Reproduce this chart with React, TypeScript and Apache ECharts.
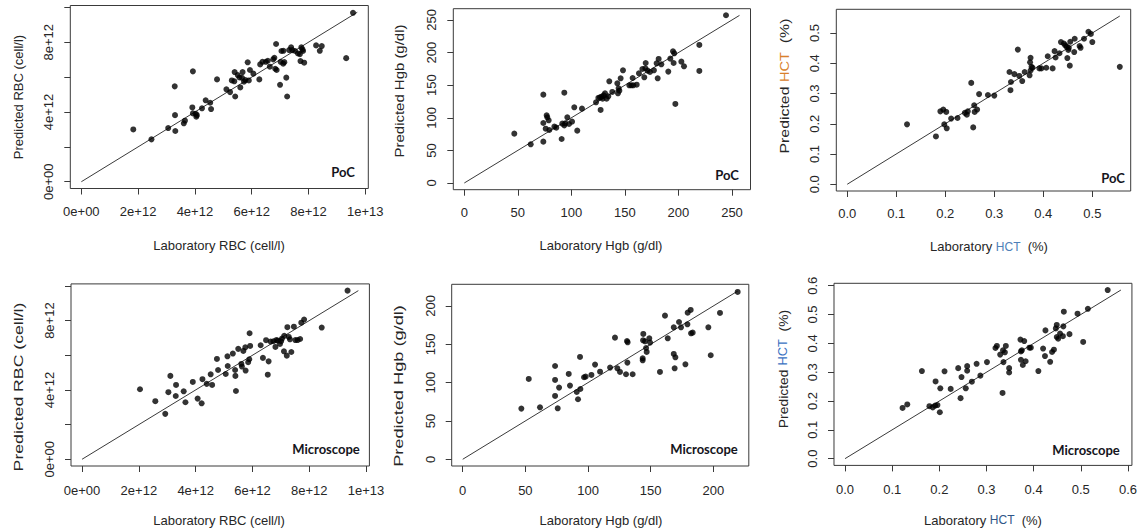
import React, { useEffect, useRef } from "react";
import * as echarts from "echarts";

// ---- Data (RBC values in units of 1e12 cell/l) ----
const rbcPocLab = [9.57,1.83,2.47,3.06,3.29,3.30,3.31,3.61,3.65,3.93,3.91,3.93,4.03,4.05,4.07,4.25,4.38,4.54,4.57,4.78,5.11,5.24,5.30,5.39,5.40,5.42,5.51,5.57,5.60,5.66,5.68,5.73,5.78,5.86,5.90,5.94,6.06,6.27,6.30,6.38,6.50,6.57,6.64,6.76,6.80,6.83,6.86,6.88,7.00,7.02,7.05,7.12,7.11,7.15,7.22,7.25,7.32,7.39,7.43,7.53,7.63,7.70,7.72,7.75,7.79,7.81,7.85,8.27,8.40,8.47,9.33];
const rbcPocPred = [9.69,3.00,2.43,3.08,5.47,3.82,2.91,3.35,3.50,6.33,4.26,3.92,3.90,3.73,3.82,4.21,4.67,4.53,4.17,5.87,5.30,5.14,5.81,5.76,6.29,4.89,6.12,5.98,5.41,5.96,6.29,5.74,5.83,6.85,5.81,6.41,6.20,5.87,6.73,6.88,6.88,6.94,6.60,7.02,7.11,6.48,7.90,6.41,5.56,6.88,7.50,7.51,6.77,6.86,5.97,4.89,7.55,7.71,7.55,7.50,7.36,7.32,6.92,7.71,7.59,7.50,6.83,7.82,7.51,7.78,7.09];

const hgbPocLab = [244.4,46.7,62.0,73.8,73.8,73.8,76.0,76.9,77.5,78.8,79.4,84.1,85.9,90.9,91.5,93.4,93.4,94.3,96.2,97.8,100.6,102.7,105.5,109.9,123.0,125.2,126.7,127.3,128.3,129.2,130.1,131.4,132.9,134.5,135.4,138.2,142.9,143.5,144.1,144.8,146.0,148.2,154.1,156.0,157.2,157.8,161.0,163.1,166.3,168.1,169.1,169.4,171.2,173.4,177.1,179.6,180.6,181.5,184.0,190.5,192.4,194.9,195.5,196.1,197.1,202.7,205.2,219.5,219.5];
const hgbPocPred = [257.2,75.7,59.3,135.5,92.0,63.4,83.3,103.8,100.7,96.1,81.3,86.4,84.9,67.5,91.0,138.5,88.4,91.5,100.7,90.5,94.1,116.1,80.3,114.0,123.7,130.4,131.4,112.0,132.4,129.3,134.5,137.5,129.3,132.9,155.9,139.6,152.9,137.5,145.2,141.6,160.5,172.8,149.8,149.8,161.0,149.8,150.8,168.2,174.8,162.1,175.9,184.0,172.3,170.2,172.8,183.5,160.5,190.2,182.0,170.8,190.7,201.9,184.0,198.9,121.2,186.1,178.9,211.7,171.8];

const hctPocLab = [0.122,0.181,0.190,0.196,0.202,0.198,0.203,0.212,0.225,0.240,0.244,0.246,0.253,0.257,0.259,0.260,0.265,0.269,0.287,0.300,0.331,0.333,0.334,0.341,0.348,0.351,0.357,0.362,0.372,0.373,0.374,0.374,0.376,0.378,0.392,0.396,0.406,0.409,0.419,0.423,0.425,0.433,0.436,0.442,0.445,0.448,0.449,0.451,0.452,0.454,0.455,0.463,0.464,0.474,0.476,0.483,0.492,0.497,0.500,0.556];
const hctPocPred = [0.198,0.158,0.241,0.247,0.239,0.198,0.185,0.217,0.219,0.236,0.230,0.241,0.335,0.188,0.261,0.239,0.247,0.298,0.295,0.293,0.371,0.311,0.338,0.364,0.445,0.358,0.341,0.371,0.360,0.403,0.418,0.376,0.388,0.385,0.383,0.383,0.385,0.423,0.383,0.440,0.419,0.433,0.470,0.465,0.459,0.454,0.417,0.444,0.451,0.392,0.471,0.437,0.481,0.457,0.451,0.481,0.504,0.497,0.470,0.388];

const rbcMicLab = [9.35,2.04,2.58,2.93,3.04,3.11,3.31,3.30,3.58,3.64,3.90,4.07,4.21,4.24,4.39,4.53,4.58,4.75,4.79,5.06,5.12,5.13,5.31,5.39,5.40,5.42,5.50,5.61,5.63,5.68,5.75,5.76,5.85,5.89,5.90,5.92,6.29,6.37,6.48,6.54,6.57,6.64,6.74,6.81,6.84,6.89,6.97,7.01,7.04,7.12,7.11,7.21,7.23,7.28,7.32,7.37,7.46,7.51,7.59,7.68,7.72,7.82,8.44];
const rbcMicPred = [9.73,4.04,3.35,2.62,3.87,4.81,4.29,3.65,3.92,3.29,4.46,3.50,3.23,4.62,4.35,4.90,4.29,5.79,5.15,4.92,5.94,5.38,6.10,5.15,4.81,3.94,6.37,5.50,5.35,6.25,6.46,5.12,5.60,5.77,7.27,6.54,6.58,5.85,6.87,4.88,5.65,6.79,6.81,6.48,6.88,6.85,6.65,6.81,6.96,7.12,6.23,5.98,7.62,7.06,6.92,6.19,7.65,6.88,6.88,6.94,7.88,8.06,7.60];

const hgbMicLab = [219.4,46.8,52.7,61.7,73.7,73.7,73.7,75.8,76.9,84.6,85.6,91.0,92.0,93.6,93.9,96.8,98.1,102.7,105.6,109.6,117.6,123.4,125.5,121.5,131.1,131.6,131.4,130.3,135.6,143.6,143.6,144.1,143.9,145.5,146.3,146.8,148.9,149.5,157.4,161.4,163.6,168.4,168.4,169.7,169.1,172.6,174.2,177.7,179.3,179.5,181.9,182.2,183.5,196.0,197.9,205.3];
const hgbMicPred = [218.3,66.1,104.8,67.8,121.7,103.5,82.6,66.5,93.5,111.3,96.1,87.8,78.3,133.5,91.7,107.0,107.8,110.0,123.5,114.3,119.6,118.7,113.9,158.7,154.3,152.6,126.1,110.9,110.9,131.7,129.1,163.5,155.2,153.9,145.2,140.0,157.8,152.2,113.9,187.4,157.8,172.2,137.4,133.0,118.7,179.1,172.2,123.9,176.1,191.3,194.8,164.3,165.2,172.2,135.7,190.9];

const hctMicLab = [0.557,0.122,0.132,0.163,0.179,0.186,0.191,0.196,0.192,0.201,0.202,0.211,0.224,0.240,0.245,0.247,0.256,0.259,0.259,0.269,0.279,0.287,0.301,0.319,0.322,0.329,0.334,0.335,0.336,0.339,0.341,0.348,0.348,0.372,0.373,0.373,0.375,0.377,0.380,0.383,0.391,0.394,0.410,0.420,0.424,0.425,0.435,0.439,0.443,0.447,0.449,0.449,0.452,0.456,0.462,0.463,0.464,0.476,0.493,0.505,0.515];
const hctMicPred = [0.585,0.176,0.188,0.304,0.182,0.178,0.184,0.186,0.268,0.161,0.244,0.303,0.242,0.314,0.210,0.283,0.244,0.321,0.305,0.267,0.329,0.288,0.335,0.384,0.391,0.361,0.228,0.376,0.335,0.369,0.391,0.314,0.299,0.413,0.343,0.372,0.376,0.325,0.408,0.338,0.385,0.385,0.304,0.382,0.356,0.445,0.336,0.370,0.378,0.452,0.464,0.422,0.416,0.434,0.425,0.459,0.510,0.432,0.503,0.405,0.520];

// identity-line end points (max of each panel's data)
const identityMax = [9.72, 257, 0.556, 9.73, 219.5, 0.585];

// tick values
const rbcTicks = [0, 2, 4, 6, 8, 10];
const rbcYLabels = [0, 4, 8];
const hgbTicks250 = [0, 50, 100, 150, 200, 250];
const hgbTicks200 = [0, 50, 100, 150, 200];
const hctTicks05 = [0, 0.1, 0.2, 0.3, 0.4, 0.5];
const hctTicks06 = [0, 0.1, 0.2, 0.3, 0.4, 0.5, 0.6];

const tagLabels = ["PoC", "PoC", "PoC", "Microscope", "Microscope", "Microscope"];

const FONT = "'Liberation Sans', Arial, Helvetica, sans-serif";
const TXT = "#262626";

const rbcFmt = (v: number) => (v === 0 ? "0e+00" : v === 10 ? "1e+13" : `${v}e+12`);
const intFmt = (v: number) => String(Math.round(v));
const decFmt = (v: number) => v.toFixed(1);

const pad = (m: number) => [-0.04 * m, 1.04 * m];

type Panel = {
  lab: number[];
  pred: number[];
  grid: { left: number; top: number; width: number; height: number };
  range: number[];
  xTicks: number[];
  yTicks: number[];
  yLabels: number[];
  fmt: (v: number) => string;
  lineMax: number;
  xTitle: string;
  yTitle: string;
  xTitlePos: number[];
  yTitlePos: number[];
  yScale: number;
  xMargin: number;
  hctX?: string;
  hctY?: string;
  tagPos: number[];
};

const panels: Panel[] = [
  {
    lab: rbcPocLab, pred: rbcPocPred,
    grid: { left: 70.3, top: 5.5, width: 298, height: 183 },
    range: pad(identityMax[0]), xTicks: rbcTicks, yTicks: rbcTicks, yLabels: rbcYLabels,
    fmt: rbcFmt, lineMax: identityMax[0],
    xTitle: "Laboratory RBC (cell/l)", yTitle: "Predicted RBC (cell/l)",
    xTitlePos: [219, 245], yTitlePos: [18.5, 97], yScale: 1.0, xMargin: 16, tagPos: [343, 172],
  },
  {
    lab: hgbPocLab, pred: hgbPocPred,
    grid: { left: 453.3, top: 8.7, width: 297.2, height: 181 },
    range: pad(identityMax[1]), xTicks: hgbTicks250, yTicks: hgbTicks250, yLabels: hgbTicks250,
    fmt: intFmt, lineMax: identityMax[1],
    xTitle: "Laboratory Hgb (g/dl)", yTitle: "Predicted Hgb (g/dl)",
    xTitlePos: [601, 245], yTitlePos: [399.5, 91], yScale: 1.15, xMargin: 16, tagPos: [727, 175],
  },
  {
    lab: hctPocLab, pred: hctPocPred,
    grid: { left: 836.3, top: 9.3, width: 294.4, height: 181.7 },
    range: pad(identityMax[2]), xTicks: hctTicks05, yTicks: hctTicks05, yLabels: hctTicks05,
    fmt: decFmt, lineMax: identityMax[2],
    xTitle: "", yTitle: "",
    xTitlePos: [989, 246.5], yTitlePos: [785, 86], yScale: 1.22, xMargin: 16,
    hctX: "#4f80b8", hctY: "#d9812c", tagPos: [1113, 178],
  },
  {
    lab: rbcMicLab, pred: rbcMicPred,
    grid: { left: 71, top: 283.9, width: 298.4, height: 182.1 },
    range: pad(identityMax[3]), xTicks: rbcTicks, yTicks: rbcTicks, yLabels: rbcYLabels,
    fmt: rbcFmt, lineMax: identityMax[3],
    xTitle: "Laboratory RBC (cell/l)", yTitle: "Predicted RBC (cell/l)",
    xTitlePos: [219, 520], yTitlePos: [18.5, 387], yScale: 1.36, xMargin: 18, tagPos: [326, 449],
  },
  {
    lab: hgbMicLab, pred: hgbMicPred,
    grid: { left: 451.7, top: 284.3, width: 297.1, height: 181.7 },
    range: pad(identityMax[4]), xTicks: hgbTicks200, yTicks: hgbTicks200, yLabels: hgbTicks200,
    fmt: intFmt, lineMax: identityMax[4],
    xTitle: "Laboratory Hgb (g/dl)", yTitle: "Predicted Hgb (g/dl)",
    xTitlePos: [601, 520], yTitlePos: [398.5, 386], yScale: 1.4, xMargin: 18, tagPos: [704, 449],
  },
  {
    lab: hctMicLab, pred: hctMicPred,
    grid: { left: 834, top: 283.3, width: 298, height: 182.1 },
    range: pad(identityMax[5]), xTicks: hctTicks06, yTicks: hctTicks06, yLabels: hctTicks06,
    fmt: decFmt, lineMax: identityMax[5],
    xTitle: "", yTitle: "",
    xTitlePos: [983, 520], yTitlePos: [783.5, 369], yScale: 1.07, xMargin: 18,
    hctX: "#2f5688", hctY: "#3b72c2", tagPos: [1086, 450],
  },
];

function buildOption() {
  const grid = panels.map((p) => ({
    ...p.grid,
    show: true,
    borderColor: "#3a3a3a",
    borderWidth: 1,
    backgroundColor: "transparent",
    containLabel: false,
  }));
  const axisCommon = (ticks: number[], labels: number[], fmt: (v: number) => string, isY: boolean, margin: number) => ({
    type: "value" as const,
    axisLine: { show: false, onZero: false },
    splitLine: { show: false },
    axisTick: { show: true, length: 6, lineStyle: { color: "#3a3a3a", width: 1 }, customValues: ticks },
    axisLabel: {
      customValues: labels,
      formatter: fmt,
      color: TXT,
      fontSize: 13,
      fontFamily: FONT,
      margin,
      rotate: isY ? 90 : 0,
      showMinLabel: true,
      showMaxLabel: true,
    },
  });
  const xAxis = panels.map((p, i) => ({
    ...axisCommon(p.xTicks, p.xTicks, p.fmt, false, p.xMargin),
    gridIndex: i,
    min: p.range[0],
    max: p.range[1],
  }));
  const yAxis = panels.map((p, i) => ({
    ...axisCommon(p.yTicks, p.yLabels, p.fmt, true, 15),
    gridIndex: i,
    min: p.range[0],
    max: p.range[1],
  }));
  const series: any[] = [];
  panels.forEach((p, i) => {
    const n = Math.min(p.lab.length, p.pred.length);
    const pts: number[][] = [];
    for (let j = 0; j < n; j++) pts.push([p.lab[j], p.pred[j]]);
    series.push({
      type: "line",
      xAxisIndex: i,
      yAxisIndex: i,
      data: [[0, 0], [p.lineMax, p.lineMax]],
      symbol: "none",
      lineStyle: { color: "#3a3a3a", width: 1 },
      silent: true,
      z: 1,
    });
    series.push({
      type: "scatter",
      xAxisIndex: i,
      yAxisIndex: i,
      data: pts,
      symbol: "circle",
      symbolSize: 6,
      itemStyle: { color: "#000" },
      z: 2,
    });
  });

  const base = { fill: TXT, font: `13px ${FONT}` };
  const graphic: any[] = [];
  panels.forEach((p) => {
    const isHct = !!p.hctX;
    const xText = isHct ? "{a|Laboratory }{h|HCT}{a|  (%)}" : p.xTitle;
    const yText = isHct ? "{a|Predicted }{h|HCT}{a|  (%)}" : p.yTitle;
    graphic.push({
      type: "text",
      x: p.xTitlePos[0],
      y: p.xTitlePos[1],
      silent: true,
      style: {
        ...base,
        text: xText,
        align: "center",
        verticalAlign: "middle",
        rich: isHct
          ? { a: { fill: TXT, font: `13px ${FONT}` }, h: { fill: p.hctX, font: `12px ${FONT}` } }
          : undefined,
      },
    });
    graphic.push({
      type: "text",
      x: p.yTitlePos[0],
      y: p.yTitlePos[1],
      rotation: Math.PI / 2,
      scaleX: p.yScale,
      silent: true,
      style: {
        ...base,
        text: yText,
        align: "center",
        verticalAlign: "middle",
        rich: isHct
          ? { a: { fill: TXT, font: `13px ${FONT}` }, h: { fill: p.hctY, font: `12px ${FONT}` } }
          : undefined,
      },
    });
  });
  panels.forEach((p, i) => {
    graphic.push({
      type: "text",
      x: p.tagPos[0],
      y: p.tagPos[1],
      silent: true,
      style: {
        text: tagLabels[i],
        fill: "#141420",
        font: `bold 13px Lato, 'Open Sans', sans-serif`,
        align: "center",
        verticalAlign: "middle",
      },
    });
  });

  return {
    animation: false,
    backgroundColor: "#ffffff",
    grid,
    xAxis,
    yAxis,
    series,
    graphic,
  };
}

export default function App() {
  const ref = useRef<HTMLDivElement>(null);
  useEffect(() => {
    if (!ref.current) return;
    const chart = echarts.init(ref.current, undefined, { renderer: "svg" });
    chart.setOption(buildOption() as any);
    return () => chart.dispose();
  }, []);
  return (
    <div
      ref={ref}
      style={{ position: "absolute", left: 0, top: 0, width: 1140, height: 532, background: "#fff" }}
    />
  );
}
